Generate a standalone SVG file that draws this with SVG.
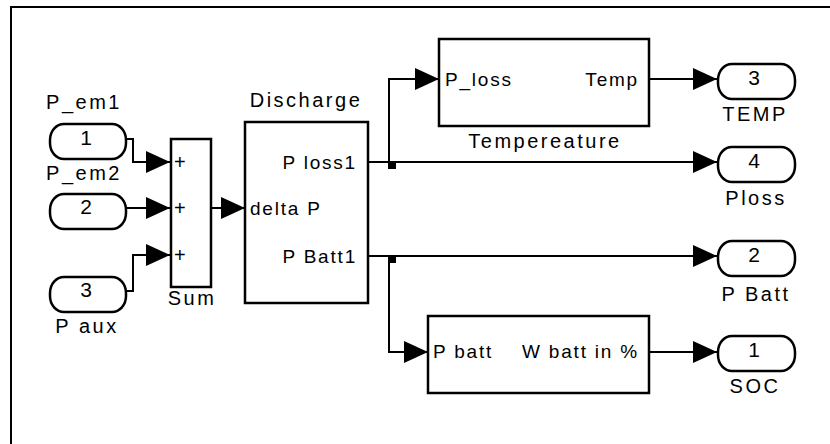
<svg xmlns="http://www.w3.org/2000/svg" width="830" height="444" viewBox="0 0 830 444">
<defs>
<marker id="arr" markerWidth="24" markerHeight="22" refX="24" refY="11" orient="auto" markerUnits="userSpaceOnUse">
<path d="M0,0 L24,11 L0,22 Z" fill="#000"/>
</marker>
<style>
.blk{fill:#fff;stroke:#000;stroke-width:2.5}
.pill{fill:#fff;stroke:#000;stroke-width:2.5}
.ln{fill:none;stroke:#000;stroke-width:2}
.name{font-family:"Liberation Sans",Arial,sans-serif;font-size:20px;letter-spacing:2.5px;fill:#000}
.port{font-family:"Liberation Sans",Arial,sans-serif;font-size:19px;letter-spacing:1.8px;fill:#000}
.plus{font-family:"Liberation Sans",Arial,sans-serif;font-size:20px;fill:#000}
.num{font-family:"Liberation Sans",Arial,sans-serif;font-size:21px;fill:#000;text-anchor:middle}
.mid{text-anchor:middle}
.end{text-anchor:end}
</style>
</defs>
<rect width="830" height="444" fill="#fff"/>
<path d="M11,444 V7 H830" class="ln"/>

<g id="in1">
<rect class="pill" x="50" y="124" width="76" height="35" rx="14" ry="16"/>
<text class="num" x="86" y="145">1</text>
<text class="name mid" x="84" y="109">P_em1</text>
</g>
<g id="in2">
<rect class="pill" x="50" y="194" width="76" height="35" rx="14" ry="16"/>
<text class="num" x="86" y="214">2</text>
<text class="name mid" x="84" y="180">P_em2</text>
</g>
<g id="in3">
<rect class="pill" x="50" y="277" width="76" height="35" rx="14" ry="16"/>
<text class="num" x="86" y="297">3</text>
<text class="name mid" x="87" y="333">P aux</text>
</g>

<g id="sum">
<rect class="blk" x="171" y="139" width="40" height="148"/>
<text class="plus" x="174" y="169">+</text>
<text class="plus" x="174" y="215">+</text>
<text class="plus" x="174" y="262">+</text>
<text class="name mid" x="192" y="305">Sum</text>
</g>

<g id="discharge">
<rect class="blk" x="245" y="122" width="123" height="181"/>
<text class="port" x="250" y="215">delta P</text>
<text class="port end" x="357" y="169">P loss1</text>
<text class="port end" x="357" y="263">P Batt1</text>
<text class="name mid" x="306" y="107">Discharge</text>
</g>

<g id="temperature">
<rect class="blk" x="439" y="39" width="210" height="87"/>
<text class="port" x="445" y="86">P_loss</text>
<text class="port end" x="639" y="86">Temp</text>
<text class="name mid" x="545" y="148">Tempereature</text>
</g>

<g id="soc_calc">
<rect class="blk" x="428" y="316" width="221" height="77"/>
<text class="port" x="433" y="358">P batt</text>
<text class="port end" x="639" y="358">W batt in %</text>
</g>

<g id="out3">
<rect class="pill" x="718" y="64" width="77" height="35" rx="14" ry="16"/>
<text class="num" x="754" y="85">3</text>
<text class="name mid" x="755" y="121">TEMP</text>
</g>
<g id="out4">
<rect class="pill" x="718" y="147" width="77" height="35" rx="14" ry="16"/>
<text class="num" x="754" y="168">4</text>
<text class="name mid" x="756" y="205">Ploss</text>
</g>
<g id="out2">
<rect class="pill" x="718" y="241" width="77" height="35" rx="14" ry="16"/>
<text class="num" x="754" y="262">2</text>
<text class="name mid" x="756" y="301">P Batt</text>
</g>
<g id="out1">
<rect class="pill" x="718" y="336" width="77" height="35" rx="14" ry="16"/>
<text class="num" x="754" y="357">1</text>
<text class="name mid" x="755" y="393">SOC</text>
</g>

<g id="connectors">
<path class="ln" d="M126,139 H133 V162 H170" marker-end="url(#arr)"/>
<path class="ln" d="M126,208 H170" marker-end="url(#arr)"/>
<path class="ln" d="M126,291 H133 V255 H170" marker-end="url(#arr)"/>
<path class="ln" d="M211,208 H245" marker-end="url(#arr)"/>
<path class="ln" d="M368,162 H717" marker-end="url(#arr)"/>
<path class="ln" d="M389,162 V79 H439" marker-end="url(#arr)"/>
<path class="ln" d="M649,79 H717" marker-end="url(#arr)"/>
<path class="ln" d="M368,256 H717" marker-end="url(#arr)"/>
<path class="ln" d="M389,256 V352 H428" marker-end="url(#arr)"/>
<path class="ln" d="M649,352 H717" marker-end="url(#arr)"/>
<rect x="388" y="161" width="8" height="8" fill="#000"/>
<rect x="388" y="255" width="8" height="8" fill="#000"/>
</g>
</svg>
